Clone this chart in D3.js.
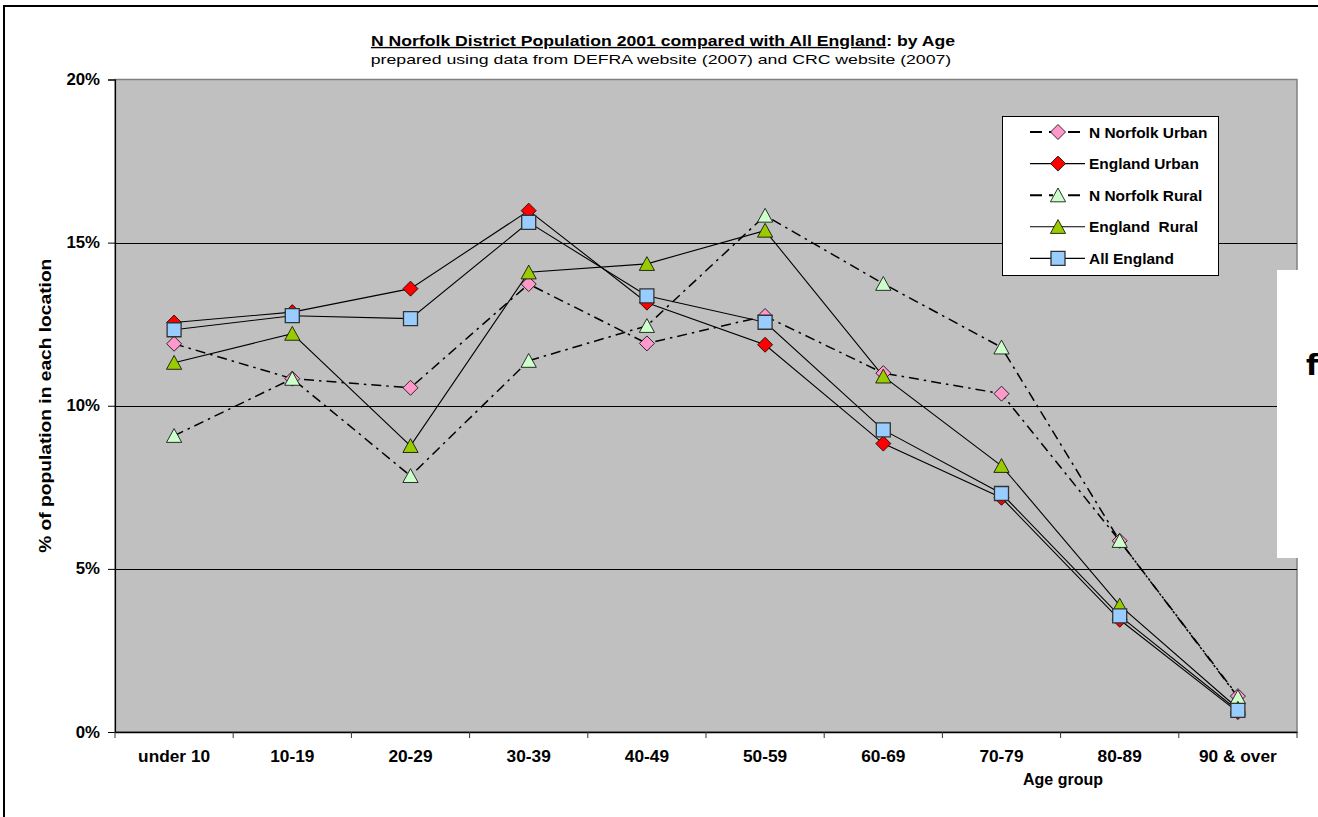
<!DOCTYPE html>
<html>
<head>
<meta charset="utf-8">
<script src="https://cdn.jsdelivr.net/npm/d3@7"></script>
<style>
  html, body { margin: 0; padding: 0; background: #fff; }
  svg { display: block; }
  text { font-family: "Liberation Sans", Arial, sans-serif; fill: #000; white-space: pre; }
</style>
</head>
<body>
<svg id="chart" width="1318" height="817"></svg>
<script>
// ---- data: % of population in each age group ----
const ageGroups = ["under 10", "10-19", "20-29", "30-39", "40-49", "50-59", "60-69", "70-79", "80-89", "90 & over"];
const nNorfolkUrban = [11.9, 10.83, 10.55, 13.73, 11.91, 12.75, 11.0, 10.37, 5.86, 1.1];
const englandUrban  = [12.55, 12.87, 13.59, 15.98, 13.16, 11.87, 8.84, 7.18, 3.44, 0.61];
const nNorfolkRural = [9.08, 10.83, 7.85, 11.38, 12.45, 15.83, 13.74, 11.79, 5.86, 1.07];
const englandRural  = [11.32, 12.21, 8.77, 14.09, 14.35, 15.37, 10.9, 8.16, 3.88, 0.72];
const allEngland    = [12.33, 12.76, 12.67, 15.62, 13.37, 12.56, 9.26, 7.31, 3.56, 0.66];
const yTicks = [0, 5, 10, 15, 20];
const seriesNames = ["N Norfolk Urban", "England Urban", "N Norfolk Rural", "England  Rural", "All England"];

const series = [
  { name: seriesNames[0], values: nNorfolkUrban, marker: "diamond",  fill: "#FF99CC", dashed: true },
  { name: seriesNames[1], values: englandUrban,  marker: "diamond",  fill: "#FF0000", dashed: false },
  { name: seriesNames[2], values: nNorfolkRural, marker: "triangle", fill: "#CCFFCC", dashed: true },
  { name: seriesNames[3], values: englandRural,  marker: "triangle", fill: "#99CC00", dashed: false },
  { name: seriesNames[4], values: allEngland,    marker: "square",   fill: "#99CCFF", dashed: false }
];

const W = 1318, H = 817;
const plot = { left: 115, right: 1297, top: 79.5, bottom: 732 };
const dashPattern = "10,5,2.5,5";

const svg = d3.select("#chart");
svg.append("rect").attr("width", W).attr("height", H).attr("fill", "#fff");

// chart frame
svg.append("rect")
  .attr("x", 4).attr("y", 6).attr("width", W + 20).attr("height", H + 20)
  .attr("fill", "none").attr("stroke", "#000").attr("stroke-width", 2);

const x = d3.scaleBand().domain(ageGroups).range([plot.left, plot.right]).paddingInner(0).paddingOuter(0);
const y = d3.scaleLinear().domain([0, 20]).range([plot.bottom, plot.top]);
const cx = d => x(d) + x.bandwidth() / 2;

// plot area
svg.append("rect")
  .attr("x", plot.left).attr("y", plot.top)
  .attr("width", plot.right - plot.left).attr("height", plot.bottom - plot.top)
  .attr("fill", "#C0C0C0").attr("stroke", "#808080").attr("stroke-width", 1.5);

// gridlines
svg.append("g").selectAll("line")
  .data(yTicks.filter(t => t > 0 && t < 20))
  .join("line")
  .attr("x1", plot.left).attr("x2", plot.right)
  .attr("y1", d => Math.round(y(d)) + 0.5).attr("y2", d => Math.round(y(d)) + 0.5)
  .attr("stroke", "#000").attr("stroke-width", 1);

// axes
const yAxis = svg.append("g")
  .attr("transform", `translate(${plot.left},0)`)
  .call(d3.axisLeft(y).tickValues(yTicks).tickFormat(d => d + "%").tickSize(7).tickPadding(8));
yAxis.select(".domain").attr("stroke", "#000").attr("stroke-width", 1.2);
yAxis.selectAll(".tick line").attr("stroke", "#000");
yAxis.selectAll(".tick text")
  .style("font-size", "16px").style("font-weight", "bold")
  .attr("x", -15 / 1.05).attr("transform", "scale(1.05,1)");

const xAxis = svg.append("g")
  .attr("transform", `translate(0,${plot.bottom})`)
  .call(d3.axisBottom(x).tickSize(0).tickPadding(0));
xAxis.select(".domain").attr("stroke", "#000").attr("stroke-width", 1.5);
xAxis.selectAll(".tick text")
  .style("font-size", "16px").style("font-weight", "bold")
  .attr("y", 30).attr("dy", 0).attr("transform", "scale(1.08,1)");
// category boundary ticks
xAxis.append("g").selectAll("line")
  .data(ageGroups.map(d => x(d)).concat([plot.right]))
  .join("line")
  .attr("x1", d => d).attr("x2", d => d)
  .attr("y1", 0).attr("y2", 6)
  .attr("stroke", "#333");

// axis titles
svg.append("text")
  .attr("transform", `translate(51,${(plot.top + plot.bottom) / 2}) rotate(-90) scale(1.2,1)`)
  .attr("text-anchor", "middle")
  .style("font-size", "16px").style("font-weight", "bold")
  .text("% of population in each location");

svg.append("text")
  .attr("x", 1063).attr("y", 785)
  .attr("text-anchor", "middle")
  .style("font-size", "16px").style("font-weight", "bold")
  .text("Age group");

// title
const title = svg.append("g").attr("transform", "translate(663,46) scale(1.26,1)")
  .append("text").attr("text-anchor", "middle")
  .style("font-size", "14px").style("font-weight", "bold");
title.append("tspan").style("text-decoration", "underline")
  .text("N Norfolk District Population 2001 compared with All England");
title.append("tspan").text(": by Age");

svg.append("g").attr("transform", "translate(661,63.5) scale(1.31,1)")
  .append("text").attr("text-anchor", "middle")
  .style("font-size", "13.5px")
  .text("prepared using data from DEFRA website (2007) and CRC website (2007)");

// marker shapes
function markerPath(type) {
  if (type === "diamond") return "M0,-7.5L7.5,0L0,7.5L-7.5,0Z";
  if (type === "triangle") return "M0,-7.2L7.6,6.6L-7.6,6.6Z";
  return "M-7,-7H7V7H-7Z";
}

const line = d3.line().x((d, i) => cx(ageGroups[i])).y(d => y(d));

// series lines
svg.append("g").selectAll("path")
  .data(series)
  .join("path")
  .attr("d", s => line(s.values))
  .attr("fill", "none")
  .attr("stroke", "#000")
  .attr("stroke-width", s => s.dashed ? 1.5 : 1.1)
  .attr("stroke-dasharray", s => s.dashed ? dashPattern : null);

// series markers
series.forEach(s => {
  svg.append("g").selectAll("path")
    .data(s.values)
    .join("path")
    .attr("transform", (d, i) => `translate(${cx(ageGroups[i])},${y(d)})`)
    .attr("d", markerPath(s.marker))
    .attr("fill", s.fill)
    .attr("stroke", s.marker === "square" ? "#333" : "#000")
    .attr("stroke-width", s.marker === "square" ? 1.3 : 0.8);
});

// legend
const legend = svg.append("g");
legend.append("rect")
  .attr("x", 1002.5).attr("y", 116.5).attr("width", 216).attr("height", 159)
  .attr("fill", "#fff").attr("stroke", "#000").attr("stroke-width", 1);
series.forEach((s, i) => {
  const ly = 132 + i * 31.6;
  const g = legend.append("g").attr("transform", `translate(0,${ly})`);
  g.append("line")
    .attr("x1", 1030).attr("x2", 1085).attr("y1", 0).attr("y2", 0)
    .attr("stroke", "#000")
    .attr("stroke-width", s.dashed ? 2 : 1.1)
    .attr("stroke-dasharray", s.dashed ? "12,7,4,15,12,10" : null);
  g.append("path")
    .attr("transform", "translate(1058,0)")
    .attr("d", markerPath(s.marker))
    .attr("fill", s.fill)
    .attr("stroke", s.marker === "square" ? "#333" : "#000")
    .attr("stroke-width", s.marker === "square" ? 1.3 : 0.8);
  g.append("g").attr("transform", "translate(1089,5.5) scale(1.03,1)")
    .append("text")
    .attr("xml:space", "preserve")
    .style("font-size", "15px").style("font-weight", "bold")
    .text(s.name);
});

// overlapping text box at the right edge
svg.append("rect")
  .attr("x", 1277).attr("y", 270).attr("width", 60).attr("height", 288)
  .attr("fill", "#fff");
svg.append("text")
  .attr("x", 1306).attr("y", 375)
  .style("font-family", "'Comic Sans MS', 'DejaVu Sans', sans-serif")
  .style("font-size", "29px").style("font-weight", "bold")
  .text("f");
</script>
</body>
</html>
